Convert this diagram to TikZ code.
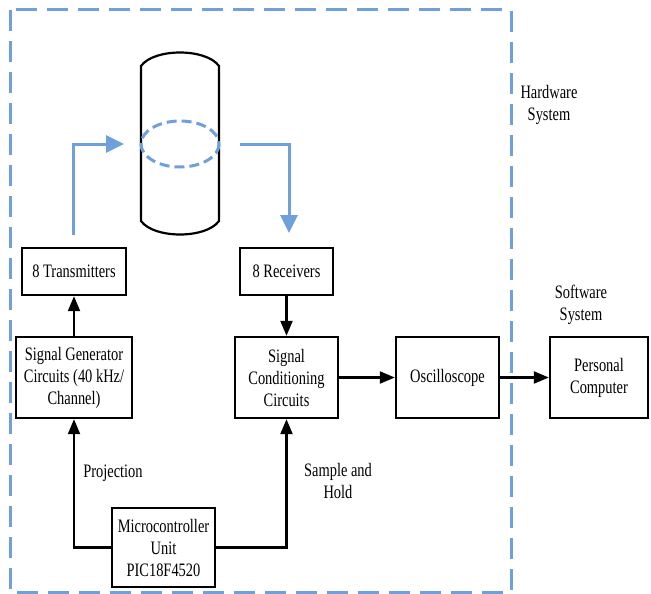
\documentclass[tikz,border=0pt]{standalone}
\usepackage{fontspec}
\setmainfont{Liberation Serif}[FakeStretch=0.76]
\usetikzlibrary{arrows.meta}
\definecolor{hwblue}{RGB}{112,160,220}
\begin{document}
\begin{tikzpicture}[x=1pt,y=-1pt,
  txt/.style={font=\fontsize{19}{22}\selectfont, align=center, inner sep=0pt},
  blk/.style={txt, draw=black, line width=2.4pt},
  arr/.style={line width=2.2pt, -{Triangle[length=15pt,width=12pt]}},
  barr/.style={line width=3pt, hwblue, -{Triangle[length=18pt,width=17pt]}},
]
\useasboundingbox (0,0) rectangle (651,594);
% hardware system border
\draw[hwblue, line width=3pt, dash pattern=on 21pt off 10pt] (10,10) rectangle (511,592);
% cylinder
\draw[line width=2.2pt] (141,66) .. controls (154,48) and (206,48) .. (219,66)
  -- (219,221) .. controls (206,239) and (154,239) .. (141,221) -- cycle;
\draw[hwblue, line width=3pt, dash pattern=on 10pt off 5pt] (180,144) ellipse [x radius=39, y radius=23];
% blocks
\node[blk, minimum width=104pt, minimum height=47pt] (tx) at (74,271.5) {8 Transmitters};
\node[blk, minimum width=93pt, minimum height=47pt] (rx) at (286.5,271.5) {8 Receivers};
\node[blk, minimum width=116pt, minimum height=81pt] (sg) at (74,377.5) {Signal Generator\\Circuits (40 kHz/\\Channel)};
\node[blk, minimum width=103pt, minimum height=81pt] (sc) at (286.5,377.5) {Signal\\Conditioning\\Circuits};
\node[blk, minimum width=103pt, minimum height=81pt] (osc) at (447.5,377.5) {Oscilloscope};
\node[blk, minimum width=98pt, minimum height=81pt] (pc) at (599,377.5) {Personal\\Computer};
\node[blk, minimum width=103pt, minimum height=79pt] (mcu) at (163.5,547.5) {Microcontroller\\Unit\\PIC18F4520};
% labels
\node[txt] (proj) at (113,473) {Projection};
\node[txt] (sh) at (338,481) {Sample and\\Hold};
\node[txt] (hw) at (549,104.5) {Hardware\\System};
\node[txt] (sw) at (581,305) {Software\\System};
% black connectors
\draw[arr] (sg.north) -- (tx.south);
\draw[arr] (rx.south) -- (sc.north);
\draw[arr] (mcu.west) -| (sg.south);
\draw[arr] (mcu.east) -| (sc.south);
\draw[arr] (sc.east) -- (osc.west);
\draw[arr] (osc.east) -- (pc.west);
% blue wave arrows
\coordinate (b1s) at (73,235);
\coordinate (b1e) at (124,144);
\coordinate (b2s) at (240,144);
\coordinate (b2e) at (289,233);
\draw[barr] (b1s) |- (b1e);
\draw[barr] (b2s) -| (b2e);
\end{tikzpicture}
\end{document}
